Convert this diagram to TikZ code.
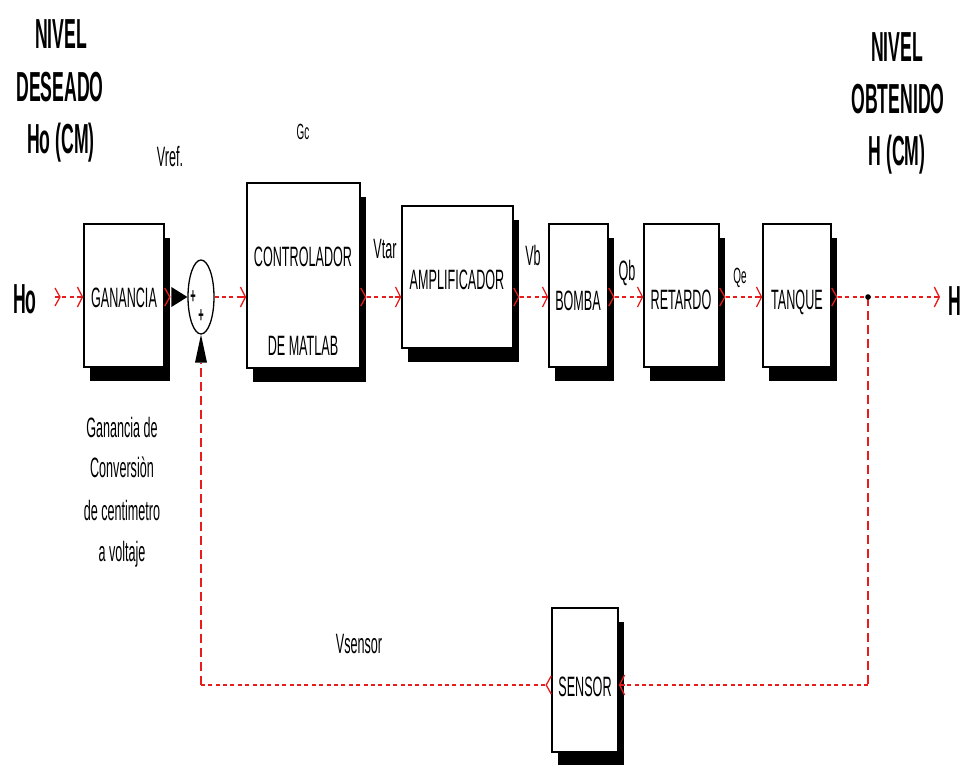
\documentclass[tikz,border=0pt]{standalone}
\usepackage{fontspec}
\newfontfamily\nf[FakeStretch=0.45]{Liberation Sans}
\newfontfamily\hf[FakeStretch=0.42]{Liberation Sans Bold}
\usetikzlibrary{arrows.meta,shadows,shapes.geometric}
\definecolor{lred}{RGB}{232,28,28}
\begin{document}
\begin{tikzpicture}[x=1pt,y=-1pt,
  blk/.style={draw=black, line width=1.6pt, fill=white, inner sep=0pt,
     drop shadow={shadow xshift=6pt, shadow yshift=-14pt, fill=black, opacity=1}},
  lbl/.style={font=\nf\fontsize{28}{28}\selectfont, inner sep=0pt, anchor=base},
  slbl/.style={font=\nf\fontsize{22}{22}\selectfont, inner sep=0pt, anchor=base},
  head/.style={font=\hf\fontsize{42}{42}\selectfont, inner sep=0pt, anchor=base},
  tip/.style={-{Straight Barb[length=5pt,width=20pt,line width=1.3pt]}},
  sig/.style={draw=lred, line width=2.4pt, dash pattern=on 4pt off 3.4pt},
  sigv/.style={draw=lred, line width=2pt, dash pattern=on 9pt off 5pt},
  port/.style={draw=lred, line width=1.3pt}]
\useasboundingbox (0,0) rectangle (967,765);

% blocks
\node[blk, minimum width=80pt, minimum height=143pt] (gan) at (124,295.5) {};
\node[blk, minimum width=113pt, minimum height=185pt] (ctl) at (303.5,275.5) {};
\node[blk, minimum width=111pt, minimum height=142pt] (amp) at (457.5,277) {};
\node[blk, minimum width=59pt, minimum height=143pt] (bom) at (578.5,295.5) {};
\node[blk, minimum width=75pt, minimum height=143pt] (ret) at (681.5,295.5) {};
\node[blk, minimum width=68pt, minimum height=143pt] (tnk) at (797,295.5) {};
\node[blk, minimum width=66pt, minimum height=144pt] (sen) at (585,680) {};
\node[draw=black, line width=1.3pt, ellipse, minimum width=26pt, minimum height=74pt, inner sep=0pt] (sum) at (201,297) {};

% block texts
\node[lbl] (tgan) at (124,307) {GANANCIA};
\node[lbl] (tctl1) at (303,266) {CONTROLADOR};
\node[lbl] (tctl2) at (303,355) {DE MATLAB};
\node[lbl] (tamp) at (457,289) {AMPLIFICADOR};
\node[lbl] (tbom) at (578,310) {BOMBA};
\node[lbl] (tret) at (681,309) {RETARDO};
\node[lbl] (ttnk) at (797,309) {TANQUE};
\node[lbl] (tsen) at (585,696) {SENSOR};
\node[font=\hf\fontsize{22}{22}\selectfont, inner sep=0pt] (p1) at (193,297) {+};
\node[font=\hf\fontsize{22}{22}\selectfont, inner sep=0pt] (p2) at (201,316) {+};

% coordinates
\coordinate (main) at (0,297);
\coordinate (ho) at (55,297);
\coordinate (junc) at (868,297);
\coordinate (hout) at (940,297);
\coordinate (fbr) at (868,685);
\coordinate (fbl) at (201,685);

% signal lines
\draw[sig] (ho) -- (gan.west |- main);
\draw[sig] (sum.east) -- (ctl.west |- main);
\draw[sig] ([xshift=6pt]ctl.east |- main) -- (amp.west |- main);
\draw[sig] ([xshift=6pt]amp.east |- main) -- (bom.west |- main);
\draw[sig] ([xshift=6pt]bom.east |- main) -- (ret.west |- main);
\draw[sig] ([xshift=6pt]ret.east |- main) -- (tnk.west |- main);
\draw[sig] ([xshift=6pt]tnk.east |- main) -- (hout);
\draw[sigv] (junc) -- (fbr);
\draw[sig] (fbr) -- (sen.east |- fbr);
\draw[sig] ([xshift=-6pt]sen.west |- fbr) -- (fbl);
\draw[sigv] (fbl) -- ([yshift=-28pt]sum.south);

% arrow tips (solid)
\foreach \n in {gan,ctl,amp,bom,ret,tnk}{
  \draw[port, tip] ([xshift=-6pt]\n.west |- main) -- (\n.west |- main);}
\draw[port, tip] ([xshift=-6pt]hout) -- (hout);
\draw[port, tip] ([xshift=6pt]sen.east |- fbr) -- (sen.east |- fbr);
% output ports
\foreach \n in {gan,ctl,amp,bom,ret,tnk}{
  \draw[port] ([shift={(0pt,9pt)}]\n.east |- main) -- ([xshift=5pt]\n.east |- main) -- ([shift={(0pt,-9pt)}]\n.east |- main);}
\draw[port] ([shift={(0pt,9pt)}]ho) -- ([xshift=5pt]ho) -- ([shift={(0pt,-9pt)}]ho);
\draw[port] ([shift={(0pt,9pt)}]sen.west |- fbr) -- ([xshift=-5pt]sen.west |- fbr) -- ([shift={(0pt,-9pt)}]sen.west |- fbr);

% summing junction inputs (black triangles)
\fill[black] ([shift={(-16pt,10pt)}]sum.west) -- (sum.west) -- ([shift={(-16pt,-10pt)}]sum.west) -- cycle;
\fill[black] ([shift={(-6pt,-28pt)}]sum.south) -- (sum.south) -- ([shift={(6pt,-28pt)}]sum.south) -- cycle;
\fill[black] (junc) circle (2.8pt);

% signal labels
\node[lbl] (lvref) at (170,167) {Vref.};
\node[slbl] (lgc) at (303,140) {Gc};
\node[lbl] (lvtar) at (385,258) {Vtar};
\node[lbl] (lvb) at (533,265) {Vb};
\node[lbl] (lqb) at (627,280) {Qb};
\node[slbl] (lqe) at (740,283) {Qe};
\node[lbl] (lvs) at (359,653) {Vsensor};

% in / out
\node[head] (lho) at (25,313) {Ho};
\node[head] (lh) at (955,315) {H};

% headings
\node[head] (h1a) at (61,49) {NIVEL};
\node[head] (h1b) at (60,102) {DESEADO};
\node[head] (h1c) at (61,154) {Ho (CM)};
\node[head] (h2a) at (897,62) {NIVEL};
\node[head] (h2b) at (898,114) {OBTENIDO};
\node[head] (h2c) at (897,166) {H (CM)};

% note
\node[lbl] (g1) at (122,437) {Ganancia de};
\node[lbl] (g2) at (122,477) {Conversiòn};
\node[lbl] (g3) at (122,520) {de centimetro};
\node[lbl] (g4) at (122,561) {a voltaje};
\end{tikzpicture}
\end{document}
